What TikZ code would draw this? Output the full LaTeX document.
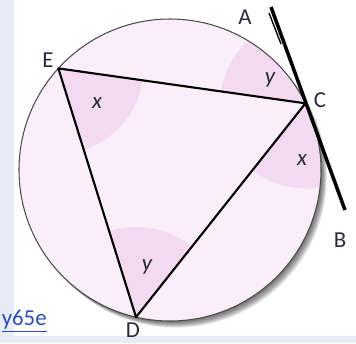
\documentclass[tikz,border=0pt]{standalone}
\usepackage{fontspec}
\setmainfont{Carlito}
\usetikzlibrary{calc}
\definecolor{disc}{HTML}{F9EEFA}
\definecolor{wedgepink}{HTML}{F4DAF1}
\definecolor{panel}{HTML}{E9EBF7}
\definecolor{linkblue}{HTML}{2B4DB5}
\definecolor{ink}{HTML}{2A2A3A}
\tikzset{
  side/.style={black,line width=1.2pt,line join=round},
  rim/.style={black!70,line width=0.6pt},
  touch/.style={black,line width=2pt},
  lab/.style={text=ink,font=\fontsize{13}{15}\selectfont,inner sep=0pt},
  ang/.style={text=ink,font=\fontsize{13}{15}\selectfont\itshape,inner sep=0pt}
}
\begin{document}
\begin{tikzpicture}[x=0.02cm,y=-0.02cm]
  \useasboundingbox (0,0) rectangle (356,343);
  \fill[panel] (0,0) rectangle (14,343);
  \fill[panel] (0,336) rectangle (356,343);
  \coordinate (O) at (170,170);
  \coordinate (E) at ($(O)+(222.3:151)$);
  \coordinate (C) at ($(O)+(333.8:151)$);
  \coordinate (D) at ($(O)+(103:151)$);
  \coordinate (A0) at (271,7);
  \coordinate (B0) at (345,210);
  \coordinate (A1) at (269,13);
  \coordinate (A2) at (281,44);
  \foreach \s in {1,...,8}
    \fill[black,opacity=0.09] ($(O)+(0.2+\s*0.7,0.2+\s*0.8)$) circle (151);
  \fill[disc] (O) circle (151);
  \begin{scope}
    \clip (O) circle (151);
    \clip (E) circle (85);
    \fill[wedgepink] (E) -- (D) -- (C) -- cycle;
  \end{scope}
  \begin{scope}
    \clip (O) circle (151);
    \clip (C) circle (85);
    \fill[wedgepink] (C) -- (E) -- (A0) -- cycle;
  \end{scope}
  \begin{scope}
    \clip (O) circle (151);
    \clip (C) circle (85);
    \fill[wedgepink] (C) -- (D) -- (B0) -- cycle;
  \end{scope}
  \begin{scope}
    \clip (O) circle (151);
    \clip (D) circle (90);
    \fill[wedgepink] (D) -- (E) -- (C) -- cycle;
  \end{scope}
  \draw[rim] (O) circle (151);
  \draw[side] (E) -- (C) -- (D) -- cycle;
  \draw[touch] (A0) -- (B0);
  \draw[black,line width=0.8pt] (A1) -- (A2);
  \foreach \n/\p in {A/{245,17},E/{48,60},C/{320,100},B/{340,240},D/{133,330}}
    \node[lab] (lab\n) at (\p) {\n};
  \node[ang] (angE) at (97,103) {x};
  \node[ang] (angCa) at (270,80) {y};
  \node[ang] (angCb) at (302,160) {x};
  \node[ang] (angD) at (147,267) {y};
  \node[anchor=base east,inner sep=0pt,text=linkblue,font=\fontsize{13}{15}\selectfont] (lnk) at (47,325) {\underline{y65e}};
\end{tikzpicture}
\end{document}
